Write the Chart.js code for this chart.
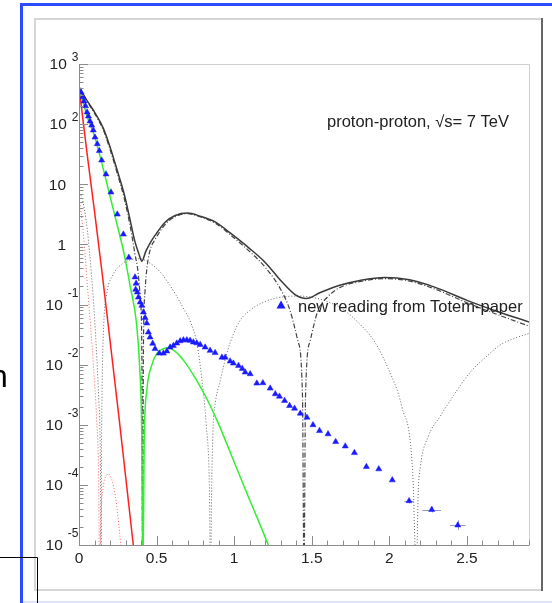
<!DOCTYPE html>
<html>
<head>
<meta charset="utf-8">
<script src="https://cdn.jsdelivr.net/npm/chart.js@4.4.1/dist/chart.umd.min.js"></script>
<style>
  html, body { margin: 0; padding: 0; background: #fff; overflow: hidden; }
  #wrap { position: relative; width: 552px; height: 603px; }
</style>
</head>
<body>
<div id="wrap"><canvas id="grafico" width="552" height="603"></canvas></div>
<script>
// TOTEM points, |t| in GeV^2 and dsigma/dt
const tTotem = [0.013, 0.023, 0.032, 0.042, 0.052, 0.061, 0.071, 0.082, 0.092, 0.103,
  0.118, 0.131, 0.146, 0.174, 0.206, 0.247, 0.286, 0.321, 0.361, 0.365,
  0.368, 0.376, 0.383, 0.394, 0.405, 0.415, 0.426, 0.437, 0.447, 0.458,
  0.475, 0.490, 0.518, 0.544, 0.566, 0.587, 0.608, 0.630, 0.652, 0.673,
  0.695, 0.716, 0.737, 0.759, 0.781, 0.813, 0.845, 0.877, 0.921, 0.942,
  0.974, 0.995, 1.028, 1.052, 1.071, 1.103, 1.146, 1.185, 1.232, 1.265,
  1.292, 1.325, 1.357, 1.389, 1.426, 1.469, 1.508, 1.550, 1.605, 1.654,
  1.716, 1.775, 1.852, 1.932, 2.019, 2.127, 2.273, 2.441];
const vTotem = [339, 282, 240, 200, 158, 135, 112, 95.5, 79.4, 60.3,
  46.8, 35.9, 25.1, 14.7, 7.36, 3.16, 1.47, 0.607, 0.285, 0.178,
  0.224, 0.160, 0.132, 0.109, 0.0962, 0.0745, 0.0600, 0.0488, 0.0345, 0.0285,
  0.0224, 0.0183, 0.0154, 0.0154, 0.0167, 0.0194, 0.0207, 0.0226, 0.0247, 0.0256,
  0.0256, 0.0251, 0.0236, 0.0228, 0.0215, 0.0194, 0.0171, 0.0157, 0.0132, 0.0132,
  0.0114, 0.0105, 0.00962, 0.00857, 0.00745, 0.00700, 0.00488, 0.00495, 0.00403, 0.00325,
  0.00296, 0.00251, 0.00207, 0.00187, 0.00154, 0.00132, 9.93e-4, 7.94e-4, 7.0e-4, 5.21e-4,
  4.39e-4, 3.41e-4, 2.0e-4, 1.83e-4, 1.20e-4, 5.41e-5, 3.87e-5, 2.13e-5];
// error bars of the last three points
const errIdx = [75, 76, 77];
const errX = [0.03, 0.06, 0.05];
const errLo = [4.9e-5, 3.47e-5, 1.78e-5];
const errHi = [5.9e-5, 4.37e-5, 2.57e-5];

// total (black solid)
const tTotal = [0, 0.05, 0.1, 0.157, 0.2, 0.25, 0.29, 0.33, 0.36, 0.385, 0.405, 0.43, 0.46, 0.49, 0.555, 0.62, 0.7, 0.78, 0.88, 0.97, 1.1, 1.2, 1.3, 1.39, 1.465, 1.555, 1.68, 1.81, 1.97, 2.13, 2.3, 2.5, 2.7, 2.9];
const vTotal = [417, 251, 158, 85.1, 41.7, 15.8, 7.08, 2.51, 1.12, 0.708, 0.525, 0.759, 1.07, 1.41, 2.34, 3.02, 3.31, 2.95, 2.34, 1.58, 0.851, 0.501, 0.251, 0.148, 0.126, 0.158, 0.209, 0.251, 0.282, 0.257, 0.191, 0.117, 0.0759, 0.0513];

// dash-dot component
const tDash = [0, 0.05, 0.1, 0.157, 0.2, 0.25, 0.29, 0.33, 0.36, 0.38, 0.395, 0.405, 0.41, 0.415, 0.425, 0.44, 0.46, 0.49, 0.555, 0.62, 0.7, 0.78, 0.88, 0.97, 1.1, 1.2, 1.3, 1.36, 1.41, 1.44, 1.45, 1.46, 1.49, 1.54, 1.6, 1.68, 1.81, 1.97, 2.13, 2.3, 2.5, 2.7, 2.9];
const vDash = [417, 245, 151, 79.4, 38.0, 14.1, 6.03, 2.0, 0.708, 0.355, 0.126, 0.0158, 3.16e-6, 0.0158, 0.158, 0.447, 0.832, 1.2, 2.14, 2.88, 3.24, 2.88, 2.24, 1.48, 0.759, 0.417, 0.178, 0.0794, 0.0251, 0.00316, 3.16e-6, 0.00316, 0.0251, 0.0794, 0.132, 0.191, 0.240, 0.269, 0.245, 0.178, 0.107, 0.0676, 0.0437];

// gray dotted component
const tGray = [0, 0.02, 0.054, 0.08, 0.1, 0.115, 0.128, 0.135, 0.14, 0.142, 0.145, 0.15, 0.16, 0.18, 0.22, 0.28, 0.34, 0.39, 0.45, 0.52, 0.57, 0.62, 0.67, 0.72, 0.76, 0.79, 0.82, 0.84, 0.848, 0.855, 0.865, 0.875, 0.91, 0.96, 1.03, 1.1, 1.2, 1.3, 1.4, 1.5, 1.6, 1.7, 1.8, 1.9, 1.99, 2.08, 2.15, 2.175, 2.185, 2.2, 2.25, 2.33, 2.43, 2.53, 2.62, 2.71, 2.8, 2.9];
const vGray = [7.08, 5.89, 1.70, 0.316, 0.0631, 0.0126, 0.00251, 7.94e-4, 5.01e-5, 3.16e-6, 3.16e-4, 0.00631, 0.0501, 0.158, 0.316, 0.479, 0.562, 0.575, 0.501, 0.355, 0.240, 0.151, 0.0891, 0.0501, 0.0224, 0.00631, 0.001, 1e-4, 3.16e-6, 1e-4, 0.001, 0.002, 0.00537, 0.0178, 0.0501, 0.0794, 0.112, 0.132, 0.138, 0.132, 0.112, 0.0832, 0.0501, 0.0251, 0.00891, 0.002, 1.70e-4, 3.16e-6, 6.31e-5, 2.0e-4, 6.31e-4, 0.00141, 0.00355, 0.00794, 0.0132, 0.0209, 0.0269, 0.0331];

// red solid and red dotted
const tRed = [0, 0.05, 0.1, 0.15, 0.2, 0.26, 0.3, 0.35, 0.37];
const vRed = [417, 35.5, 3.55, 0.316, 0.0251, 0.00117, 1.41e-4, 1e-5, 3.55e-6];
const tRedDot = [0, 0.026, 0.06, 0.092, 0.114, 0.126, 0.133, 0.14, 0.155, 0.175, 0.19, 0.21, 0.235, 0.26, 0.275, 0.283];
const vRedDot = [6.31, 1.70, 0.132, 0.0105, 0.00117, 1.58e-4, 3.16e-6, 2.51e-5, 8.91e-5, 1.41e-4, 1.51e-4, 1.26e-4, 6.31e-5, 1.78e-5, 6.31e-6, 3.16e-6];

// green solid
const tGreen = [0, 0.05, 0.1, 0.157, 0.2, 0.25, 0.29, 0.33, 0.37, 0.39, 0.404, 0.412, 0.42, 0.437, 0.47, 0.5, 0.54, 0.575, 0.62, 0.68, 0.76, 0.83, 0.89, 0.95, 1.02, 1.1, 1.16, 1.22, 1.25];
const vGreen = [417, 141, 63.1, 17.8, 6.31, 1.91, 0.708, 0.2, 0.0501, 0.01, 7.94e-4, 3.16e-6, 5.01e-4, 0.00372, 0.01, 0.0151, 0.0182, 0.0191, 0.0166, 0.0112, 0.00537, 0.00251, 0.00117, 5.01e-4, 1.78e-4, 5.62e-5, 2.40e-5, 1e-5, 6.31e-6];

// axis ticks
const xTicks = [0, 0.5, 1, 1.5, 2, 2.5];
const xTickLabels = ['0', '0.5', '1', '1.5', '2', '2.5'];
const yTicks = [1e3, 1e2, 10, 1, 1e-1, 1e-2, 1e-3, 1e-4, 1e-5];
const yTickExp = ['3', '2', '', '', '-1', '-2', '-3', '-4', '-5'];
const yTickBase = ['10', '10', '10', '1', '10', '10', '10', '10', '10'];

const FONT = '"Liberation Sans", Arial, sans-serif';

function pts(ts, vs) {
    return ts.map((t, i) => ({ x: t, y: vs[i] }));
}

function curva(ts, vs, cor, largura, traco) {
    return {
        data: pts(ts, vs),
        showLine: true,
        pointRadius: 0,
        borderColor: cor,
        borderWidth: largura,
        borderDash: traco || [],
        cubicInterpolationMode: 'monotone',
        fill: false
    };
}

const moldura = {
    id: 'moldura',
    beforeDraw(chart) {
        const c = chart.ctx;
        c.save();
        c.fillStyle = '#fff';
        c.fillRect(0, 0, chart.width, chart.height);
        // window borders
        c.fillStyle = '#2b4cff';
        c.fillRect(20, 3, 532, 3);
        c.fillRect(20, 3, 3, 600);
        c.fillStyle = '#dfe5ff';
        c.fillRect(23, 601, 529, 2);
        // pad border
        c.fillStyle = '#d6d6d6';
        c.fillRect(34, 18, 508, 2);
        c.fillRect(34, 18, 2, 573);
        c.fillRect(34, 589, 508, 2);
        c.fillStyle = '#666';
        c.fillRect(541, 18, 2, 573);
        // stray black box corner
        c.strokeStyle = '#000';
        c.lineWidth = 1;
        c.beginPath();
        c.moveTo(0, 557.5);
        c.lineTo(37.5, 557.5);
        c.lineTo(37.5, 603);
        c.stroke();
        c.fillStyle = '#000';
        c.font = '32px ' + FONT;
        c.textBaseline = 'alphabetic';
        c.fillText('n', -10, 387);
        c.restore();
    },
    beforeDatasetsDraw(chart) {
        const c = chart.ctx, sx = chart.scales.x, sy = chart.scales.y;
        c.save();
        c.strokeStyle = 'rgba(110,110,190,0.7)';
        c.lineWidth = 1;
        errIdx.forEach((k, i) => {
            const x0 = sx.getPixelForValue(tTotem[k] - errX[i]);
            const x1 = sx.getPixelForValue(tTotem[k] + errX[i]);
            const xc = sx.getPixelForValue(tTotem[k]);
            const yc = sy.getPixelForValue(vTotem[k]);
            c.beginPath();
            c.moveTo(x0, Math.round(yc) + 0.5);
            c.lineTo(x1, Math.round(yc) + 0.5);
            c.moveTo(Math.round(xc) + 0.5, sy.getPixelForValue(errLo[i]));
            c.lineTo(Math.round(xc) + 0.5, sy.getPixelForValue(errHi[i]));
            c.stroke();
        });
        c.restore();
    },
    afterDatasetsDraw(chart) {
        const c = chart.ctx, a = chart.chartArea;
        const sx = chart.scales.x, sy = chart.scales.y;
        c.save();
        // frame
        c.lineWidth = 1;
        c.strokeStyle = '#cfcfcf';
        c.beginPath();
        c.moveTo(a.left, a.top + 0.5);
        c.lineTo(a.right + 0.5, a.top + 0.5);
        c.lineTo(a.right + 0.5, a.bottom);
        c.stroke();
        c.strokeStyle = '#8c8c8c';
        c.beginPath();
        c.moveTo(a.left + 0.5, a.top);
        c.lineTo(a.left + 0.5, a.bottom + 0.5);
        c.lineTo(a.right + 0.5, a.bottom + 0.5);
        c.stroke();

        // x ticks (inside, upward)
        c.beginPath();
        for (let k = 0; k <= 29; k++) {
            const v = k / 10;
            const x = Math.round(sx.getPixelForValue(v)) + 0.5;
            const len = (k % 5 === 0) ? 9 : 4.5;
            c.moveTo(x, a.bottom);
            c.lineTo(x, a.bottom - len);
        }
        // y ticks (inside, rightward), decades and 2..9
        yTicks.forEach((v, i) => {
            const y = Math.round(sy.getPixelForValue(v)) + 0.5;
            c.moveTo(a.left, y);
            c.lineTo(a.left + 9, y);
            if (i > 0) {
                for (let m = 2; m <= 9; m++) {
                    const ym = Math.round(sy.getPixelForValue(v * m)) + 0.5;
                    c.moveTo(a.left, ym);
                    c.lineTo(a.left + 4.5, ym);
                }
            }
        });
        c.stroke();

        // tick labels
        c.fillStyle = '#222';
        c.textBaseline = 'middle';
        c.font = '15.5px ' + FONT;
        c.textAlign = 'center';
        xTicks.forEach((v, i) => {
            c.fillText(xTickLabels[i], sx.getPixelForValue(v), a.bottom + 14);
        });
        yTicks.forEach((v, i) => {
            const y = sy.getPixelForValue(v);
            const ex = yTickExp[i];
            c.textAlign = 'right';
            if (ex === '') {
                c.font = '15.5px ' + FONT;
                c.fillText(yTickBase[i], 66, y + 1);
                return;
            }
            c.font = '12px ' + FONT;
            const w = c.measureText(ex).width;
            const up = ex.startsWith('-') ? 11 : 6;
            c.fillText(ex, 78.5, y - up);
            c.font = '15.5px ' + FONT;
            c.fillText(yTickBase[i], 78.5 - w - 5, y + 1);
        });

        // annotations
        c.textAlign = 'left';
        c.textBaseline = 'alphabetic';
        c.font = '16.5px ' + FONT;
        c.fillText('proton-proton, \u221As= 7 TeV', 327, 127);
        c.font = '16.5px ' + FONT;
        c.fillText('new reading from Totem-paper', 298, 312);
        c.fillStyle = '#1a1aff';
        c.beginPath();
        c.moveTo(281, 300.5);
        c.lineTo(285.5, 308.5);
        c.lineTo(276.5, 308.5);
        c.closePath();
        c.fill();
        c.restore();
    }
};

const ctx = document.getElementById('grafico').getContext('2d');

new Chart(ctx, {
    type: 'scatter',
    data: {
        datasets: [
            {
                data: pts(tTotem, vTotem),
                pointStyle: 'triangle',
                pointRadius: 3.5,
                backgroundColor: '#1a1aff',
                borderColor: '#1a1aff',
                borderWidth: 0.5
            },
            curva(tGreen, vGreen, '#33ee33', 1.5),
            curva(tRed, vRed, '#ff2020', 1.5),
            curva(tTotal, vTotal, '#3a3a3a', 1.5),
            curva(tDash, vDash, '#444', 1.2, [5, 2, 1, 2]),
            curva(tRedDot, vRedDot, '#ff6060', 1, [1, 2]),
            curva(tGray, vGray, '#666', 1, [1, 2])
        ]
    },
    options: {
        responsive: false,
        animation: false,
        layout: { padding: { left: 79, right: 23, top: 64, bottom: 58 } },
        scales: {
            x: { type: 'linear', min: 0, max: 2.9, display: false },
            y: { type: 'logarithmic', min: 1e-5, max: 1000, display: false }
        },
        plugins: {
            legend: { display: false },
            tooltip: { enabled: false }
        }
    },
    plugins: [moldura]
});
</script>
</body>
</html>
